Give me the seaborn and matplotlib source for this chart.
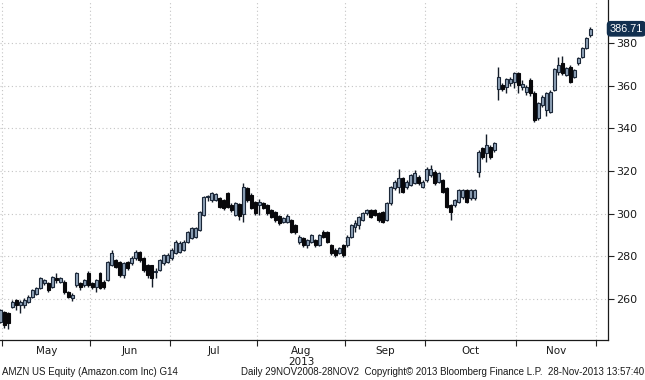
import numpy as np
import pandas as pd
import matplotlib
matplotlib.use("Agg")
import matplotlib.pyplot as plt
import matplotlib.transforms as mtransforms
import seaborn as sns

# ---- data (daily OHLC, 30 Apr 2013 .. 27 Nov 2013) ----
opens = [249.4, 254.0, 253.3, 256.4, 259.5, 257.0, 257.2, 258.7, 261.1, 262.6,
         265.0, 267.3, 267.3, 265.8, 270.0, 268.1, 268.1, 263.4, 260.3, 266.5,
         267.3, 266.5, 272.0, 267.3, 265.8, 272.0, 268.1, 268.9, 276.0, 278.3,
         277.2, 271.2, 277.2, 276.7, 279.1, 281.9, 279.1, 275.9, 275.9, 272.5,
         273.6, 276.7, 277.5, 279.1, 281.4, 282.2, 283.0, 286.9, 288.4, 289.2,
         292.3, 299.4, 307.8, 306.4, 306.4, 307.2, 306.4, 309.5, 304.0, 299.4,
         304.5, 300.1, 311.9, 308.7, 305.6, 304.0, 304.8, 304.0, 301.7, 300.9,
         298.9, 296.2, 296.2, 297.0, 294.7, 286.9, 288.4, 285.3, 286.9, 287.6,
         285.3, 291.6, 291.6, 285.3, 283.0, 281.4, 285.3, 285.3, 289.2, 293.9,
         294.7, 297.0, 300.2, 301.7, 301.7, 300.2, 300.9, 297.0, 304.8, 311.9,
         312.6, 316.6, 312.6, 313.4, 314.2, 317.3, 312.6, 315.8, 318.1, 319.7,
         315.0, 315.8, 311.9, 304.0, 304.0, 305.6, 308.0, 311.1, 307.2, 307.2,
         319.7, 330.6, 328.3, 331.4, 329.8, 358.7, 360.3, 359.5, 361.1, 361.9,
         366.1, 359.5, 357.2, 362.7, 356.7, 344.7, 350.9, 348.6, 347.8, 358.0,
         366.6, 370.5, 365.0, 368.9, 364.2, 370.5, 373.6, 377.5, 383.8]
highs = [255.5, 254.5, 254.0, 259.5, 260.0, 259.5, 260.5, 262.0, 264.8, 265.8,
         270.5, 269.5, 268.0, 271.0, 272.0, 270.5, 268.9, 264.0, 262.8, 272.5,
         268.0, 269.5, 273.0, 268.0, 269.5, 272.5, 269.0, 278.0, 283.0, 279.0,
         278.0, 277.5, 278.0, 280.0, 283.0, 282.5, 279.5, 276.5, 276.0, 274.4,
         279.0, 281.0, 281.5, 284.0, 287.5, 287.0, 287.5, 292.0, 294.0, 293.8,
         301.5, 308.5, 309.0, 310.0, 309.8, 308.0, 307.0, 310.0, 304.8, 305.3,
         305.0, 314.2, 312.5, 309.5, 306.0, 306.7, 305.5, 304.5, 302.0, 301.2,
         299.5, 298.5, 299.8, 297.5, 295.0, 289.8, 289.0, 288.0, 290.5, 288.0,
         290.5, 292.4, 292.0, 285.8, 283.7, 284.5, 285.8, 289.8, 295.0, 296.9,
         299.0, 300.8, 302.3, 302.0, 302.2, 300.8, 301.5, 305.3, 313.0, 316.0,
         320.8, 317.0, 315.8, 318.8, 320.5, 318.0, 315.8, 321.8, 322.8, 320.3,
         319.5, 316.3, 312.3, 304.5, 307.0, 311.6, 311.6, 311.8, 311.6, 311.6,
         329.8, 331.5, 337.6, 332.0, 333.8, 368.9, 361.5, 363.5, 364.0, 366.5,
         366.5, 362.5, 360.5, 363.5, 357.5, 352.5, 355.5, 357.0, 358.0, 368.5,
         373.6, 373.9, 368.8, 369.5, 368.0, 373.5, 378.0, 382.8, 387.5]
lows = [248.6, 246.2, 245.8, 255.6, 254.8, 253.3, 256.0, 258.0, 260.5, 262.0,
        264.5, 266.5, 263.5, 265.0, 267.3, 267.5, 262.5, 260.3, 259.0, 265.8,
        264.2, 265.5, 265.8, 264.5, 263.4, 264.5, 264.5, 268.5, 275.5, 274.5,
        270.5, 270.0, 273.5, 276.0, 278.5, 277.5, 272.5, 269.7, 265.8, 269.7,
        273.0, 276.0, 277.0, 278.5, 281.0, 281.5, 282.5, 286.5, 288.0, 288.5,
        292.0, 299.0, 306.0, 305.5, 305.8, 302.5, 301.8, 302.5, 301.0, 298.8,
        297.0, 296.2, 305.5, 302.0, 299.5, 299.4, 302.0, 299.5, 297.8, 296.0,
        294.5, 295.5, 295.8, 291.0, 290.5, 286.0, 284.5, 283.7, 286.5, 284.5,
        285.0, 288.5, 286.3, 280.8, 279.8, 281.0, 279.8, 284.5, 288.5, 291.6,
        293.0, 296.5, 299.5, 298.0, 298.8, 296.2, 295.5, 296.5, 304.0, 311.0,
        309.5, 309.5, 311.5, 312.8, 314.0, 313.5, 311.9, 315.0, 317.3, 313.5,
        314.3, 309.7, 302.8, 297.0, 303.3, 305.0, 307.0, 305.0, 306.5, 306.5,
        317.3, 325.5, 324.4, 325.8, 329.0, 353.3, 357.5, 356.8, 360.0, 358.8,
        356.4, 357.8, 355.8, 355.0, 343.1, 344.0, 350.0, 346.0, 347.0, 357.5,
        365.0, 365.0, 364.5, 361.1, 363.5, 369.8, 373.0, 377.0, 383.0]
closes = [254.8, 247.8, 248.6, 258.7, 257.2, 258.5, 259.5, 261.1, 264.2, 265.0,
          269.7, 268.9, 264.2, 270.5, 268.8, 269.7, 263.4, 261.1, 261.9, 272.0,
          265.8, 268.9, 266.5, 265.8, 268.9, 265.0, 265.8, 277.5, 281.4, 275.2,
          271.2, 276.7, 274.4, 279.1, 282.2, 278.3, 273.6, 271.2, 269.7, 273.0,
          278.3, 280.6, 280.6, 283.0, 286.9, 286.1, 286.9, 291.6, 293.1, 293.1,
          300.9, 308.0, 308.2, 309.5, 309.1, 303.3, 302.5, 303.3, 301.7, 304.8,
          299.0, 312.7, 306.4, 302.5, 300.2, 305.6, 302.5, 300.2, 298.6, 297.0,
          295.5, 297.8, 299.0, 291.5, 291.6, 289.2, 285.3, 287.6, 290.0, 285.3,
          290.0, 289.2, 286.9, 281.4, 280.6, 283.7, 280.6, 289.2, 294.7, 295.5,
          298.6, 300.2, 301.7, 298.6, 299.4, 297.0, 296.2, 304.8, 312.6, 315.0,
          316.6, 310.3, 315.0, 318.1, 318.9, 314.2, 315.0, 321.2, 321.2, 314.2,
          318.9, 310.3, 303.3, 301.0, 306.4, 311.1, 311.1, 305.6, 311.1, 311.1,
          329.1, 326.7, 332.2, 326.7, 333.0, 364.2, 358.7, 363.0, 363.0, 365.8,
          360.3, 361.0, 359.5, 356.4, 343.9, 351.7, 354.8, 356.4, 357.2, 367.7,
          369.7, 365.8, 368.1, 361.9, 367.4, 372.8, 377.5, 382.2, 386.71]

month_labels = ["May", "Jun", "Jul", "Aug", "Sep", "Oct", "Nov"]
month_trading_days = [22, 20, 22, 22, 20, 23, 20]   # Nov includes the 29th (no data yet)
first_month_start = 1                              # index of 1 May (index 0 = 30 Apr)
year_label = "2013"
y_ticks = [260, 280, 300, 320, 340, 360, 380]
last_price_label = "386.71"
footer_left = "AMZN US Equity (Amazon.com Inc) G14"
footer_right = ("Daily 29NOV2008-28NOV2  Copyright\u00a9 2013 Bloomberg Finance L.P.  "
                "28-Nov-2013 13:57:40")

df = pd.DataFrame({"open": opens, "high": highs, "low": lows, "close": closes})
df["pos"] = np.arange(len(df))
df["up"] = df["close"] >= df["open"]
df["body_lo"] = df[["open", "close"]].min(axis=1)
df["body_h"] = (df["close"] - df["open"]).abs().clip(lower=0.35)

sns.set_theme(style="white")
plt.rcParams["font.family"] = ["DejaVu Sans"]

W, H = 645, 380
fig = plt.figure(figsize=(W / 100, H / 100), dpi=100)
fig.patch.set_facecolor("white")
ax = fig.add_axes([0, (H - 340) / H, 608 / W, 340 / H])
ax.set_facecolor("white")

up_face, up_edge = "#8fa2b8", "#1b2738"
dn_face = "#08080b"

# wicks
ax.vlines(df["pos"], df["low"], df["high"], color="#141c28", linewidth=1.0, zorder=2)
# bodies
up = df[df["up"]]
dn = df[~df["up"]]
ax.bar(up["pos"], up["body_h"], bottom=up["body_lo"], width=0.75,
       color=up_face, edgecolor=up_edge, linewidth=0.8, zorder=3)
ax.bar(dn["pos"], dn["body_h"], bottom=dn["body_lo"], width=0.75,
       color=dn_face, edgecolor=dn_face, linewidth=0.8, zorder=3)

# axes limits
y_lo, y_hi = 240.8, 400.2
ax.set_xlim(-0.1, 152.5)
ax.set_ylim(y_lo, y_hi)

# month boundaries / labels
bounds = [first_month_start - 0.5]
for n in month_trading_days:
    bounds.append(bounds[-1] + n)
centers = [(a + b) / 2 for a, b in zip(bounds[:-1], bounds[1:])]
ax.set_xticks(bounds)
ax.set_xticklabels([""] * len(bounds))
ax.set_xticks(centers, minor=True)
ax.set_xticklabels(month_labels, minor=True)
ax.tick_params(axis="x", which="major", direction="out", length=4, width=0.8,
               color="#222222", bottom=True)
ax.tick_params(axis="x", which="minor", length=0, pad=4, labelsize=7.5,
               labelcolor="#1a1a1a")

# y axis on the right
ax.yaxis.tick_right()
ax.set_yticks(y_ticks)
ax.set_yticklabels([str(v) for v in y_ticks])
ax.tick_params(axis="y", which="major", direction="out", length=4, width=0.8,
               color="#222222", right=True, left=False, pad=2, labelsize=8,
               labelcolor="#1a1a1a")

# dotted grid
ax.grid(True, which="major", axis="both", color="#c4c4c4", linewidth=0.8,
        linestyle=(0, (1, 2.4)))
ax.set_axisbelow(True)

for s in ["top", "left"]:
    ax.spines[s].set_visible(False)
for s in ["bottom", "right"]:
    ax.spines[s].set_visible(True)
    ax.spines[s].set_color("#1a1a1a")
    ax.spines[s].set_linewidth(0.9)

# year under Aug
aug_i = month_labels.index("Aug")
trans_x = mtransforms.blended_transform_factory(ax.transData, ax.transAxes)
ax.text(centers[aug_i], -0.064, year_label, transform=trans_x, ha="center",
        va="center", fontsize=7.5, color="#1a1a1a")

# last price tag (right-aligned to the figure edge, at the last close level)
tag_y = (H - 340) / H + (closes[-1] - y_lo) / (y_hi - y_lo) * 340 / H
fig.text(643 / W, tag_y, last_price_label, ha="right", va="center",
         fontsize=7.8, color="white", family=["Liberation Sans", "DejaVu Sans"],
         bbox=dict(boxstyle="round,pad=0.2,rounding_size=0.3",
                   fc="#12304f", ec="#12304f"))

# footer
foot_font = ["Liberation Sans", "DejaVu Sans"]
fig.text(2 / W, 1 - 372 / H, footer_left, ha="left", va="center",
         fontsize=7.0, color="#1a1a1a", family=foot_font)
fig.text(644 / W, 1 - 372 / H, footer_right, ha="right", va="center",
         fontsize=7.0, color="#1a1a1a", family=foot_font)

fig.savefig("out.png", dpi=100, facecolor="white")
